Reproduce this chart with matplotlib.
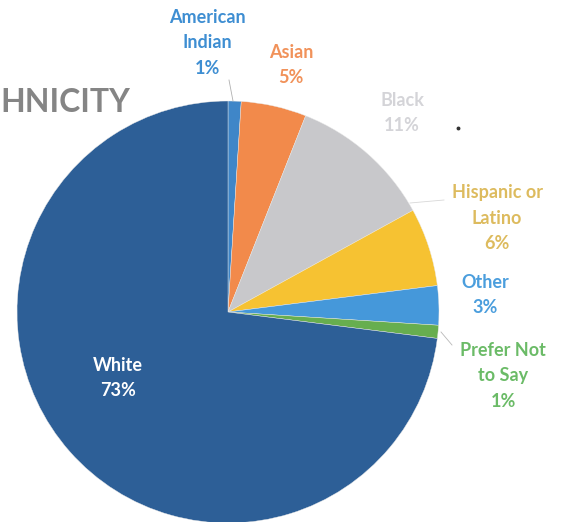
import matplotlib
matplotlib.use("Agg")
import matplotlib.pyplot as plt

# ── data ──
categories = ["American\nIndian", "Asian", "Black", "Hispanic or\nLatino", "Other", "Prefer Not\nto Say", "White"]
shares = [1, 5, 11, 6, 3, 1, 73]
slice_colors = ["#3F86C8", "#F28A4B", "#C8C8CB", "#F6C232", "#4598DA", "#67AE4F", "#2D5F97"]
label_colors = ["#3E8ED2", "#F1925A", "#D4D4D8", "#DDBB5E", "#4B9EDD", "#6BBB67", "#FFFFFF"]

# label centres in pixel coords (x from left, y from top)
label_pos = [(207, 43), (291, 65), (402, 113), (497, 218), (485, 295), (503, 376), (118, 378)]

W, H = 564, 522
fig = plt.figure(figsize=(W / 100, H / 100), dpi=100)
ax = fig.add_axes([0, 0, 1, 1])

cx, cy, r = 228, 312, 211
ax.pie(shares, colors=slice_colors, startangle=90, counterclock=False,
       center=(cx, H - cy), radius=r, frame=True,
       wedgeprops=dict(linewidth=0.3, edgecolor="#e8e8e8"))
ax.set_xlim(0, W)
ax.set_ylim(0, H)
ax.set_aspect("equal")
ax.axis("off")

for cat, pct, col, (x, y) in zip(categories, shares, label_colors, label_pos):
    ax.text(x, H - y, f"{cat}\n{pct}%", ha="center", va="center", color=col,
            fontsize=13, fontweight="bold", family="Lato", linespacing=1.6)

# leader lines
ax.plot([229, 233], [H - 80, H - 101], color="#b0b0b0", lw=0.6)
ax.plot([410, 444], [H - 203, H - 200], color="#d8d8d8", lw=0.6)
ax.plot([441, 452], [H - 332, H - 345], color="#b8b8b8", lw=0.6)

ax.text(0, H - 103, "HNICITY", ha="left", va="center", color="#858585",
        fontsize=23, fontweight="bold", family="Lato")
ax.plot([458], [H - 128], marker="o", ms=1.8, color="#333333")

plt.savefig("out.png", dpi=100)
plt.close()
